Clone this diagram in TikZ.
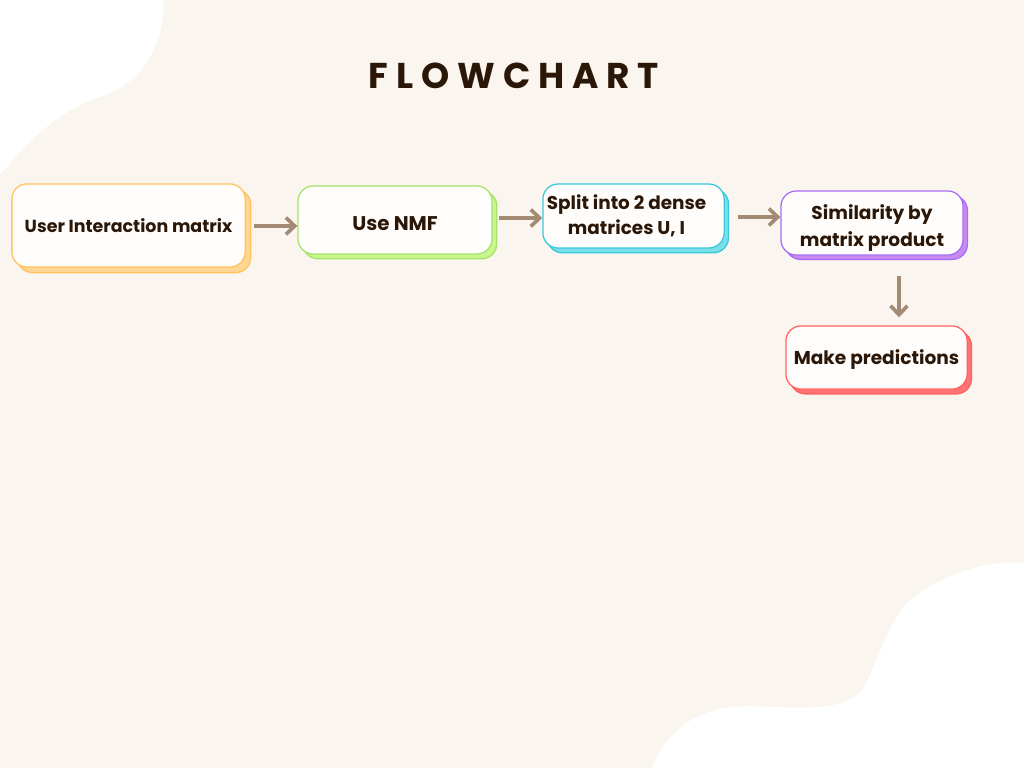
\documentclass[tikz,border=0pt]{standalone}
\usepackage{fontspec}
\setmainfont{Poppins}
\newfontfamily\titlefont[LetterSpace=22]{Poppins}
\usepackage{tikz}
\usetikzlibrary{positioning, arrows.meta, shadows}

\definecolor{pagebg}{HTML}{FAF5EF}
\definecolor{inkbrown}{HTML}{2B1708}
\definecolor{arrowbrown}{HTML}{A38B73}
\definecolor{cardfill}{HTML}{FFFDFB}
\definecolor{orangeline}{HTML}{FFC25C}
\definecolor{orangeshade}{HTML}{FFD694}
\definecolor{greenline}{HTML}{A6E36B}
\definecolor{greenshade}{HTML}{C6F68C}
\definecolor{cyanline}{HTML}{38C9DB}
\definecolor{cyanshade}{HTML}{7ADFE8}
\definecolor{purpleline}{HTML}{A56CF5}
\definecolor{purpleshade}{HTML}{C98AF0}
\definecolor{redline}{HTML}{FF6262}
\definecolor{redshade}{HTML}{FF7373}

\newcommand{\dropline}[2]{\raisebox{-#1}[\height][\depth]{#2}}

\tikzset{
  card/.style={
    draw, rectangle, rounded corners=0.38cm,
    fill=cardfill, line width=0.9pt,
    text=inkbrown, font=\bfseries\fontsize{12.4}{17}\selectfont,
    inner sep=2pt, align=center
  },
  orangecard/.style={card, draw=orangeline,
    general shadow={shadow xshift=0.14cm, shadow yshift=-0.14cm,
      fill=orangeshade, draw=orangeline, line width=0.9pt}},
  greencard/.style={card, draw=greenline,
    general shadow={shadow xshift=0.12cm, shadow yshift=-0.12cm,
      fill=greenshade, draw=greenline, line width=0.9pt}},
  cyancard/.style={card, draw=cyanline,
    general shadow={shadow xshift=0.11cm, shadow yshift=-0.12cm,
      fill=cyanshade, draw=cyanline, line width=0.9pt}},
  purplecard/.style={card, draw=purpleline,
    general shadow={shadow xshift=0.11cm, shadow yshift=-0.11cm,
      fill=purpleshade, draw=purpleline, line width=0.9pt}},
  redcard/.style={card, draw=redline,
    general shadow={shadow xshift=0.11cm, shadow yshift=-0.12cm,
      fill=redshade, draw=redline, line width=0.9pt}},
  flowarr/.style={-{Straight Barb[length=0.22cm, width=0.42cm]},
    line width=2.6pt, arrowbrown},
}

\begin{document}
\begin{tikzpicture}[x=0.025cm, y=-0.025cm]
  % page and white blobs
  \fill[pagebg] (0,0) rectangle (1024,768);
  \useasboundingbox (0,0) rectangle (1024,768);
  \fill[white] (0,0) -- (163,0)
    .. controls (166,45) and (140,85) .. (100,97)
    .. controls (55,112) and (25,145) .. (0,175) -- cycle;
  \fill[white] (1024,563)
    .. controls (985,558) and (930,580) .. (905,605)
    .. controls (885,630) and (875,670) .. (862,690)
    .. controls (845,712) and (800,707) .. (770,707)
    .. controls (720,703) and (675,712) .. (652,768)
    -- (1024,768) -- cycle;

  \node[text=inkbrown, font=\titlefont\bfseries\fontsize{25.5}{30}\selectfont]
    (title) at (514,76) {FLOWCHART};

  \node[orangecard, minimum width=5.83cm, minimum height=2.08cm]
    (uim) at (128.5,225.5) {User Interaction matrix};
  \node[greencard, minimum width=4.85cm, minimum height=1.70cm,
    font=\bfseries\fontsize{14.1}{18}\selectfont]
    (nmf) at (395,220) {\dropline{0.08cm}{Use NMF}};
  \node[cyancard, minimum width=4.53cm, minimum height=1.60cm,
    font=\bfseries\fontsize{13.1}{17.8}\selectfont]
    (split) at (633.5,216) {Split into 2 dense\hspace*{0.35cm}\\matrices U, I\hspace*{0.35cm}};
  \node[purplecard, minimum width=4.55cm, minimum height=1.60cm,
    font=\bfseries\fontsize{13.2}{19.2}\selectfont]
    (simil) at (872,223) {\dropline{0.13cm}{Similarity by}\\\dropline{0.13cm}{matrix product}};
  \node[redcard, minimum width=4.53cm, minimum height=1.58cm,
    font=\bfseries\fontsize{13.2}{18}\selectfont]
    (pred) at (876.5,357.5) {\dropline{0.05cm}{Make predictions}};

  \draw[flowarr] ([xshift=0.2cm]uim.east |- 0,226) -- (nmf.west |- 0,226);
  \draw[flowarr] ([xshift=0.15cm]nmf.east |- 0,218) -- (split.west |- 0,218);
  \draw[flowarr] ([xshift=0.32cm]split.east |- 0,217) -- (simil.west |- 0,217);
  \draw[flowarr] ([yshift=-0.52cm]simil.south -| 899,0) -- ([yshift=0.2cm]pred.north -| 899,0);
\end{tikzpicture}
\end{document}
